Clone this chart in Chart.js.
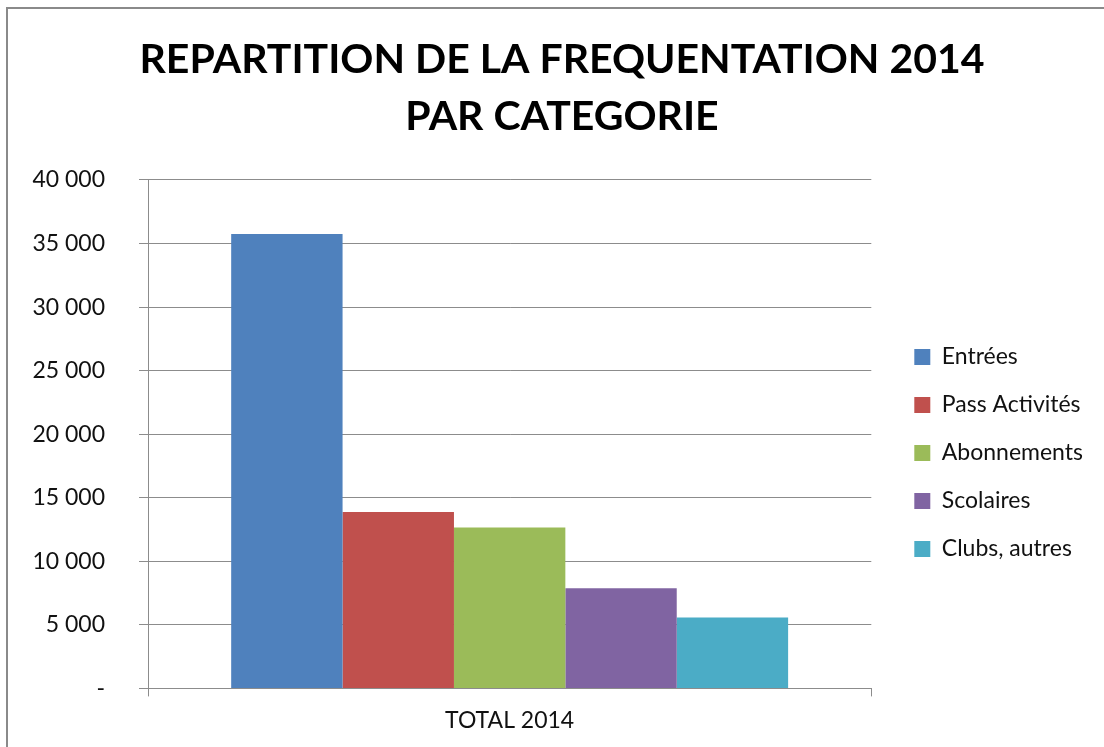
<!DOCTYPE html>
<html>
<head>
<meta charset="utf-8">
<script src="https://cdn.jsdelivr.net/npm/chart.js@4"></script>
<style>
  html, body { margin: 0; padding: 0; background: #fff; overflow: hidden; }
  #wrap { position: relative; width: 1104px; height: 747px; overflow: hidden; }
  #frame { position: absolute; left: 6px; top: 7px; width: 3000px; height: 3000px;
           border-top: 2px solid #8a8a8a; border-left: 2px solid #8a8a8a; pointer-events: none; }
  canvas { position: absolute; left: 0; top: 0; }
</style>
</head>
<body>
<div id="wrap">
  <canvas id="freqChart" width="1104" height="747"></canvas>
  <div id="frame"></div>
</div>
<script>
const categories = ['TOTAL 2014'];
const seriesNames = ['Entrées', 'Pass Activités', 'Abonnements', 'Scolaires', 'Clubs, autres'];
const seriesValues = [35750, 13880, 12660, 7870, 5570];
const seriesColors = ['#4F81BD', '#C0504D', '#9BBB59', '#8064A2', '#4BACC6'];
const yTicks = [0, 5000, 10000, 15000, 20000, 25000, 30000, 35000, 40000];

const fontFamily = "Lato, 'Open Sans', sans-serif";
const gridColor = '#8c8c8c';

function formatTick(v) {
    if (v === 0) return '-';
    return String(v).replace(/\B(?=(\d{3})+(?!\d))/g, ' ');
}

document.addEventListener('DOMContentLoaded', () => {
    const ctx = document.getElementById('freqChart').getContext('2d');
    new Chart(ctx, {
        type: 'bar',
        data: {
            labels: categories,
            datasets: seriesNames.map((name, i) => ({
                label: name,
                data: [seriesValues[i]],
                backgroundColor: seriesColors[i],
                borderWidth: 0
            }))
        },
        options: {
            responsive: false,
            animation: false,
            layout: { padding: { left: 31, right: 11, bottom: 3 } },
            datasets: {
                bar: { categoryPercentage: 0.77, barPercentage: 1.0 }
            },
            scales: {
                x: {
                    grid: { display: true, drawOnChartArea: false, color: gridColor, tickLength: 8, offset: true },
                    border: { color: gridColor, width: 1 },
                    ticks: { color: '#111', padding: 10, font: { family: fontFamily, size: 23 } }
                },
                y: {
                    min: 0,
                    max: 40000,
                    afterBuildTicks: (scale) => { scale.ticks = yTicks.map(v => ({ value: v })); },
                    afterFit: (scale) => { scale.width = 117; },
                    grid: { color: gridColor, tickLength: 9 },
                    border: { color: gridColor, width: 1 },
                    ticks: {
                        color: '#111',
                        padding: 34,
                        font: { family: fontFamily, size: 23 },
                        callback: (v) => formatTick(v)
                    }
                },
                // empty spacer between plot and legend
                yGap: {
                    position: 'right',
                    display: true,
                    grid: { display: false },
                    border: { display: false },
                    ticks: { display: false },
                    afterFit: (scale) => { scale.width = 18; }
                }
            },
            plugins: {
                title: {
                    display: true,
                    text: ['REPARTITION DE LA FREQUENTATION 2014', 'PAR CATEGORIE'],
                    color: '#000',
                    font: { family: fontFamily, size: 41, weight: 'bold', lineHeight: 1.39 },
                    padding: { top: 31, bottom: 35 }
                },
                legend: {
                    position: 'right',
                    maxWidth: 320,
                    // blank title only pushes the items down
                    title: { display: true, text: ' ', font: { size: 10, lineHeight: 1.2 }, padding: { top: 0, bottom: 150 } },
                    labels: {
                        color: '#111',
                        boxWidth: 16,
                        boxHeight: 16,
                        padding: 25,
                        font: { family: fontFamily, size: 23 }
                    }
                },
                tooltip: { enabled: false }
            }
        }
    });
});
</script>
</body>
</html>
